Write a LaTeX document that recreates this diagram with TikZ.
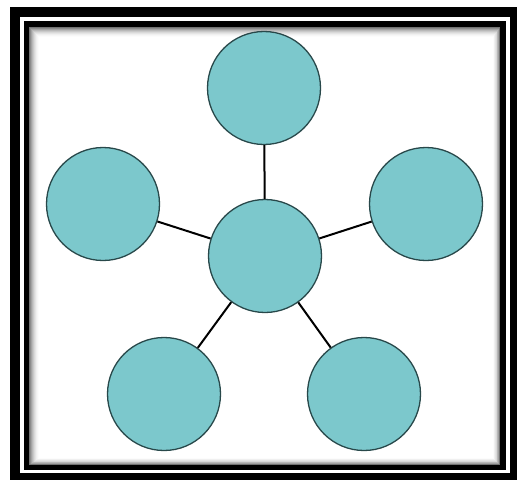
\documentclass[tikz,border=0pt]{standalone}
\definecolor{bubble}{RGB}{124,200,204}
\definecolor{bubbleedge}{RGB}{40,72,74}
\begin{document}
\begin{tikzpicture}[x=1pt,y=-1pt,
  bub/.style={circle,draw=bubbleedge,line width=1.3pt,fill=bubble,minimum size=113pt,inner sep=0pt},
  link/.style={draw=black,line width=2pt}]
\useasboundingbox (0,0) rectangle (521,485);
\fill[white] (0,0) rectangle (521,485);
% frame
\fill[black] (10,7) rectangle (517,480);
\fill[white] (20,17) rectangle (510,473);
\fill[black] (24,21) rectangle (506,470);
\foreach \i/\g in {0/55,1/45,2/36,3/28,4/21,5/15,6/10,7/6,8/3,9/1,10/0}{
  \fill[black!\g] (29+\i,27+\i) rectangle (500-\i*0.7,465-\i*0.7);
}
% circles
\node[bub] (c) at (265,256) {};
\node[bub] (t) at (264,88) {};
\node[bub] (l) at (103,204) {};
\node[bub] (r) at (426,204) {};
\node[bub] (bl) at (164,394) {};
\node[bub] (br) at (364,394) {};
% connectors
\draw[link] (c) -- (t);
\draw[link] (c) -- (l);
\draw[link] (c) -- (r);
\draw[link] (c) -- (bl);
\draw[link] (c) -- (br);
\end{tikzpicture}
\end{document}
